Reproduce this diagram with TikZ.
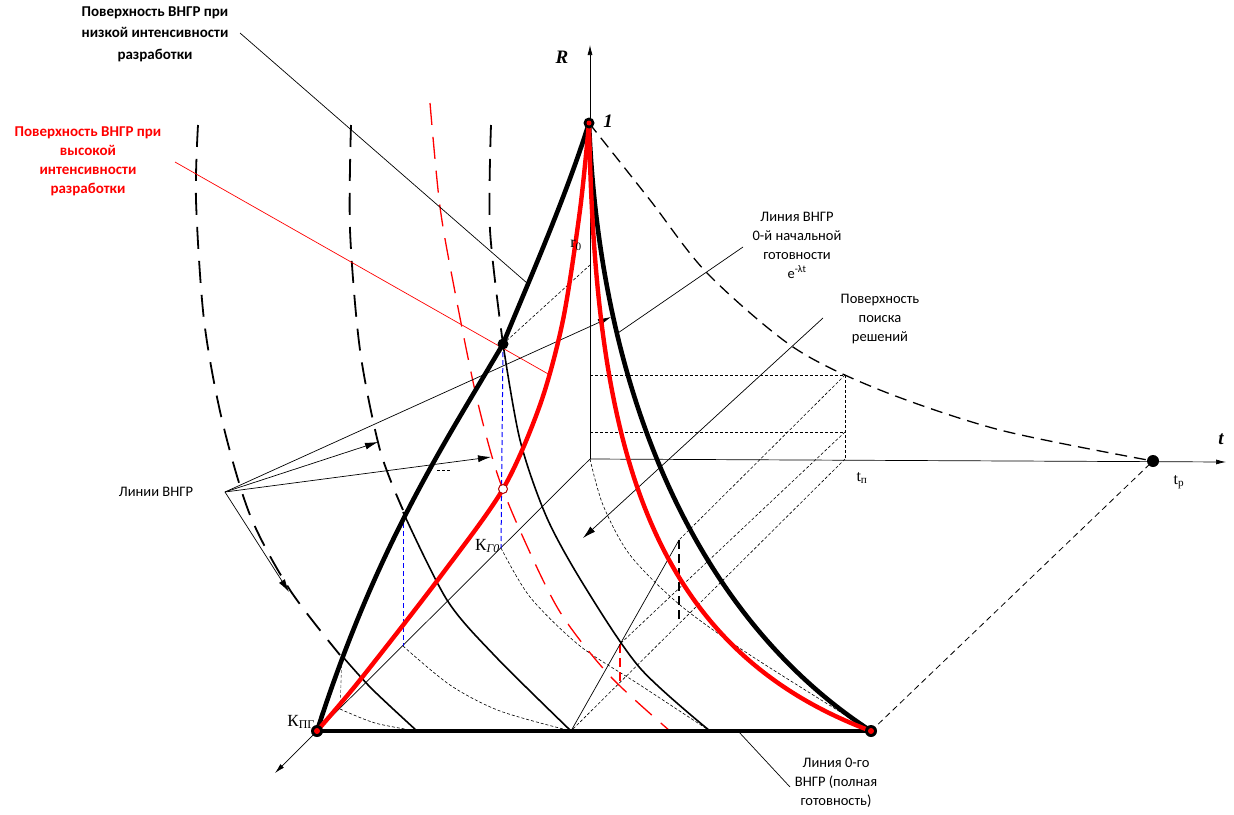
\documentclass[tikz,border=0pt]{standalone}
\usepackage{fontspec}
\setmainfont{Carlito}
\newfontfamily\tms{Liberation Serif}
\usetikzlibrary{arrows.meta}
\begin{document}
\begin{tikzpicture}[x=1pt,y=-1pt,
  thickblk/.style={line width=4.6pt,black,line cap=round},
  thickred/.style={line width=4.4pt,red,line cap=round},
  thinsolid/.style={line width=1.6pt},
  bigdash/.style={line width=1.8pt,dash pattern=on 22pt off 12pt},
  reddash/.style={line width=1.3pt,red,dash pattern=on 22pt off 12pt},
  fine/.style={line width=0.6pt,dash pattern=on 3pt off 2pt},
  expdash/.style={line width=1.3pt,dash pattern=on 12pt off 7pt},
  lead/.style={line width=0.7pt},
  arr/.style={-{Latex[length=13pt,width=7pt]}},
  txt/.style={font=\fontsize{14.5}{19}\selectfont,align=center,inner sep=0pt},
  ttl/.style={font=\fontsize{15}{21.5}\selectfont\bfseries,align=center,inner sep=0pt},
  lbl/.style={font=\fontsize{17}{18}\selectfont\tms,inner sep=0pt},
  bigl/.style={font=\fontsize{19}{20}\selectfont\tms\bfseries\itshape,inner sep=0pt},
]
\path[use as bounding box] (0,0) rectangle (1234,814);

% coordinates
\coordinate (O) at (590,459);
\coordinate (Top) at (589,123);
\coordinate (Kpg) at (317,731);
\coordinate (Rb) at (871,731);
\coordinate (Tp) at (1153,461);
\coordinate (Bd) at (503,344);
\coordinate (Wc) at (503,489);
\coordinate (Kg0) at (501,548);
\coordinate (Q1) at (340,709);
\coordinate (Q2) at (403,646);
\coordinate (B1) at (417,731);
\coordinate (B2) at (571,731);
\coordinate (B3) at (710,731);
\coordinate (Ra) at (590,375);
\coordinate (Rc) at (590,432);
\coordinate (Ca) at (845,375);
\coordinate (Cb) at (845,432);
\coordinate (Cc) at (845,459);
\coordinate (Pa) at (679,540);
\coordinate (Pb) at (679,623);
\coordinate (Pc) at (620,644);
\coordinate (Pd) at (620,682);
\coordinate (R0) at (590,265);

% axes
\draw[lead,-{Latex[length=10pt,width=5pt]}] (O) -- (590,45) coordinate (Rend);
\draw[lead,-{Latex[length=10pt,width=5pt]}] (O) -- (1226,462) coordinate (Tend);
\draw[lead,-{Latex[length=10pt,width=5pt]}] (O) -- (275,773) coordinate (Kend);

% box and fine dashed lines
\draw[fine] (Ra) -- (Ca) -- (Cc);
\draw[fine] (Rc) -- (Cb);
\draw[fine] (Ca) -- (Pa);
\draw[fine] (Cb) -- (Pc);
\draw[fine] (Cc) -- (B2);
\draw[fine] (Bd) -- (R0);
\draw[fine] plot[smooth] coordinates {(Q1) (375,723) (B1)};
\draw[fine] plot[smooth] coordinates {(Q2) (450,685) (500,711) (B2)};
\draw[fine] plot[smooth] coordinates {(Kg0) (530,597) (580,646) (640,685) (B3)};
\draw[fine] plot[smooth] coordinates {(O) (603,505) (630,555) (680,605) (750,655) (871,731)};
\draw[fine,gray!70!black] (342,655) -- (Q1);
\draw[line width=0.8pt,dash pattern=on 6pt off 4pt] (Rb) -- (Tp);

% verticals
\draw[line width=1pt,blue,dash pattern=on 5pt off 3pt] (Bd) -- (Kg0);
\draw[line width=1pt,blue,dash pattern=on 5pt off 3pt] (403,515) -- (Q2);
\draw[line width=1.4pt,dash pattern=on 9pt off 5pt] (Pa) -- (Pb);
\draw[line width=1.4pt,red,dash pattern=on 9pt off 5pt] (Pc) -- (Pd);
\draw[lead] (B2) -- (Pa);

% exponential dashed curve
\draw[expdash] plot[smooth] coordinates {(Top) (650,200) (707,273) (793,347) (880,390) (1000,430) (Tp)};

% family of curves
\draw[bigdash] plot[smooth] coordinates {(198,125) (196,200) (204,320) (222,420) (250,515) (290,590) (340,655)};
\draw[thinsolid] plot[smooth] coordinates {(343,657) (372,689) (B1)};
\draw[bigdash] plot[smooth] coordinates {(351,125) (350,230) (360,350) (380,450) (403,510)};
\draw[thinsolid] plot[smooth] coordinates {(403,512) (447,600) (495,656) (B2)};
\draw[bigdash] plot[smooth] coordinates {(491,125) (490,230) (503,344)};
\draw[thinsolid] plot[smooth] coordinates {(503,344) (520,440) (547,518) (585,587) (640,668) (B3)};
\draw[reddash] plot[smooth] coordinates {(430,103) (440,207) (455,292) (476,395) (497,473) (522,535) (560,612) (610,676) (670,731)};

% leader lines
\draw[lead] (240,33) -- (527,283);
\draw[lead,red] (175,162) -- (550,375);
\draw[lead] (743,247) -- (615,335);
\draw[lead,arr] (823,318) -- (583,538);
\draw[lead] (738,731) -- (790,787);
\coordinate (Lv) at (225,492);
\draw[lead,arr] (Lv) -- (611,317);
\draw[lead,arr] (Lv) -- (378,442);
\draw[lead,arr] (Lv) -- (491,457);
\draw[lead,arr] (Lv) -- (289,592);
\draw[line width=0.8pt,dash pattern=on 3pt off 2pt] (437,470) -- (451,470);

% thick curves
\draw[line width=4.6pt] (Kpg) -- (Rb);
\draw[thickblk] (Kpg) .. controls (377,545) and (443,446) .. (Bd) .. controls (525,290) and (565,200) .. (Top);
\draw[thickblk] (Top) .. controls (600,400) and (700,620) .. (Rb);
\draw[thickred] plot[smooth] coordinates {(Kpg) (360,680) (440,577) (503,489) (540,405) (563,320) (580,210) (Top)};
\draw[thickred] (Top) .. controls (595,430) and (640,645) .. (Rb);

% dots
\fill (Top) circle (5.5pt);
\fill[red] (Top) circle (2.5pt);
\fill (Kpg) circle (6pt);
\fill[red] (Kpg) circle (3pt);
\fill (Rb) circle (6pt);
\fill[red] (Rb) circle (3pt);
\fill (Bd) circle (5.5pt);
\fill (Tp) circle (6pt);
\draw[line width=1pt,red!70!black,fill=white] (Wc) circle (4.5pt);

% labels
\node[bigl] (lR) at (562,57) {R};
\node[bigl] (l1) at (608,121) {1};
\node[bigl] (lt) at (1221,439) {t};
\node[lbl,font=\fontsize{16}{18}\selectfont\tms] (ltp) at (862,478) {t\textsubscript{п}};
\node[lbl,font=\fontsize{16}{18}\selectfont\tms] (ltr) at (1179,482) {t\textsubscript{р}};
\node[lbl,font=\fontsize{16}{18}\selectfont\tms] (lr0) at (576,245) {r\textsubscript{0}};
\node[lbl,anchor=east] (lKpg) at (315,722) {К\textsubscript{ПГ}};
\node[lbl,anchor=east] (lKg0) at (500,546) {К\textsubscript{\itshape Г0}};

% texts
\node[ttl] (t1) at (155,34) {Поверхность ВНГР при\\низкой интенсивности\\разработки};
\node[ttl,red,font=\fontsize{15}{19}\selectfont\bfseries] (t2) at (88,161) {Поверхность ВНГР при\\высокой\\интенсивности\\разработки};
\node[txt] (t3) at (797,245) {Линия ВНГР\\0-й начальной\\готовности\\e\textsuperscript{-λt}};
\node[txt] (t4) at (880,319) {Поверхность\\поиска\\решений};
\node[txt] (t5) at (156,492) {Линии ВНГР};
\node[txt] (t6) at (836,783) {Линия 0-го\\ВНГР (полная\\готовность)};
\end{tikzpicture}
\end{document}
